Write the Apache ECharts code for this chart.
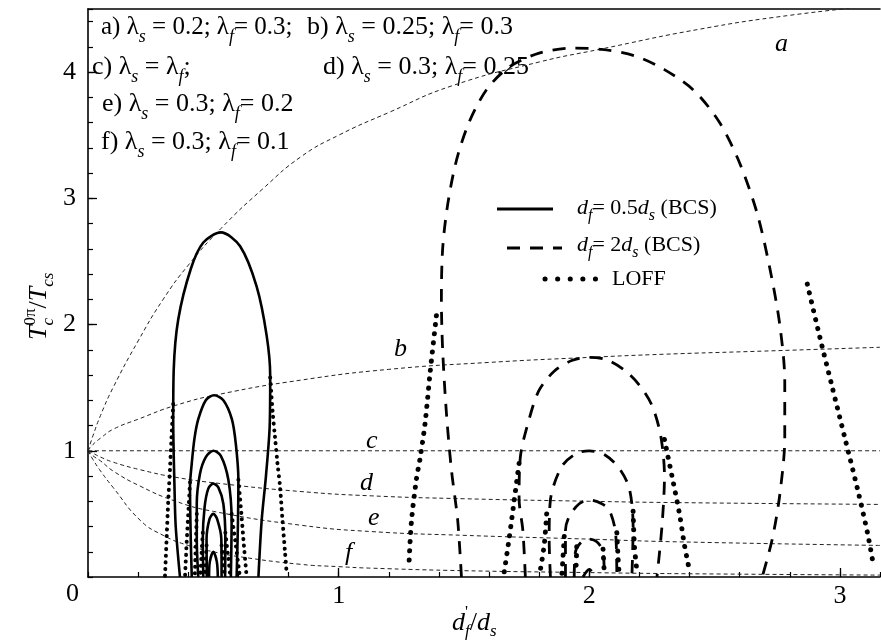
<!DOCTYPE html>
<html><head><meta charset="utf-8">
<script src="https://cdn.jsdelivr.net/npm/echarts@6/dist/echarts.min.js"></script>
<style>html,body{margin:0;padding:0;background:#fff}#c{width:881px;height:644px}</style>
</head><body><div id="c"></div>
<script>
// ---- axis ticks ----
const xMajorTicks = [0, 1, 2, 3];
const yMajorTicks = [0, 1, 2, 3, 4];

// ---- lambda curves (thin dashed) a..f ----
const lamA = [[0,1],[0.02,1.12],[0.05,1.28],[0.1,1.5],[0.2,1.87],[0.3,2.2],[0.4,2.47],[0.53,2.76],[0.7,3.08],[0.85,3.33],[1.0,3.5],[1.2,3.68],[1.45,3.89],[1.8,4.08],[2.04,4.18],[2.44,4.34],[2.8,4.45],[3.16,4.53]];
const lamB = [[0,1],[0.02,1.05],[0.05,1.1],[0.1,1.17],[0.2,1.25],[0.35,1.36],[0.53,1.45],[0.85,1.56],[1.2,1.645],[1.6,1.7],[2.0,1.74],[2.3,1.765],[2.7,1.79],[3.16,1.82]];
const lamC = [[0,1],[3.16,1]];
const lamD = [[0,1],[0.02,0.98],[0.05,0.95],[0.1,0.91],[0.208,0.85],[0.35,0.79],[0.53,0.74],[0.85,0.677],[1.13,0.643],[1.5,0.62],[2.0,0.6],[2.32,0.59],[3.16,0.575]];
const lamE = [[0,1],[0.02,0.96],[0.05,0.92],[0.1,0.84],[0.208,0.72],[0.35,0.6],[0.5,0.52],[0.85,0.41],[1.13,0.36],[1.5,0.33],[2.0,0.3],[2.32,0.28],[3.16,0.25]];
const lamF = [[0,1],[0.02,0.93],[0.05,0.84],[0.1,0.71],[0.208,0.45],[0.3,0.33],[0.4,0.25],[0.5,0.2],[0.607,0.16],[0.85,0.1],[1.0,0.082],[1.13,0.07],[1.5,0.05],[2.0,0.035],[2.32,0.027],[3.16,0.015]];

// ---- d_f = 0.5 d_s (BCS), solid ----
const bcsHalf1 = [[0.367,0],[0.35,0.4],[0.345,0.72],[0.34,1.25],[0.342,1.64],[0.36,2.04],[0.41,2.44],[0.46,2.65],[0.53,2.73],[0.607,2.62],[0.673,2.3],[0.713,1.91],[0.727,1.59],[0.725,1.2],[0.71,0.8],[0.693,0.45],[0.68,0]];
const bcsHalf2 = [[0.414,0],[0.41,0.3],[0.407,0.72],[0.414,0.9],[0.425,1.1],[0.44,1.25],[0.47,1.4],[0.503,1.44],[0.54,1.4],[0.574,1.25],[0.59,1.05],[0.6,0.77],[0.598,0.4],[0.593,0]];
const bcsHalf3 = [[0.44,0],[0.434,0.3],[0.434,0.58],[0.447,0.82],[0.47,0.95],[0.5,1.0],[0.53,0.96],[0.56,0.77],[0.573,0.45],[0.57,0]];
const bcsHalf4 = [[0.46,0],[0.458,0.3],[0.465,0.55],[0.48,0.7],[0.5,0.74],[0.52,0.71],[0.54,0.58],[0.548,0.3],[0.547,0]];
const bcsHalf5 = [[0.474,0],[0.473,0.3],[0.485,0.46],[0.5,0.5],[0.515,0.46],[0.532,0.3],[0.533,0]];
const bcsHalf6 = [[0.483,0],[0.486,0.12],[0.5,0.2],[0.514,0.12],[0.518,0]];

// ---- LOFF branches for d_f = 0.5 d_s ----
const loffHalf1L = [[0.34,1.37],[0.333,1.1],[0.327,0.85],[0.32,0.6],[0.314,0.32],[0.307,0]];
const loffHalf1R = [[0.727,1.58],[0.737,1.3],[0.746,1.11],[0.756,0.9],[0.766,0.72],[0.776,0.45],[0.786,0.2],[0.793,0.02]];
const loffHalf2L = [[0.407,0.75],[0.4,0.5],[0.393,0.25],[0.387,0]];
const loffHalf2R = [[0.6,0.77],[0.612,0.5],[0.622,0.25],[0.633,0]];
const loffHalf3L = [[0.434,0.5],[0.43,0.25],[0.426,0]];
const loffHalf3R = [[0.573,0.5],[0.59,0.25],[0.606,0]];
const loffHalf4L = [[0.458,0.35],[0.452,0.15],[0.448,0]];
const loffHalf4R = [[0.548,0.35],[0.56,0.15],[0.568,0]];
const loffHalf5L = [[0.473,0.25],[0.466,0]];
const loffHalf5R = [[0.533,0.25],[0.546,0]];

// ---- d_f = 2 d_s (BCS), dashed ----
const bcsTwo1 = [[1.49,0],[1.475,0.45],[1.45,0.85],[1.43,1.3],[1.415,1.8],[1.41,2.2],[1.415,2.6],[1.435,2.95],[1.47,3.3],[1.52,3.6],[1.59,3.86],[1.68,4.04],[1.8,4.15],[1.93,4.19],[2.05,4.18],[2.18,4.13],[2.3,4.02],[2.42,3.85],[2.52,3.6],[2.6,3.28],[2.67,2.88],[2.72,2.45],[2.76,2.0],[2.78,1.55],[2.78,1.1],[2.76,0.65],[2.73,0.3],[2.69,0]];
const bcsTwo2 = [[1.745,0],[1.735,0.37],[1.72,0.62],[1.725,0.95],[1.76,1.25],[1.8,1.48],[1.86,1.63],[1.93,1.715],[2.0,1.74],[2.07,1.72],[2.14,1.64],[2.2,1.52],[2.25,1.36],[2.285,1.12],[2.3,0.8],[2.29,0.4],[2.27,0]];
const bcsTwo3 = [[1.845,0],[1.84,0.3],[1.845,0.61],[1.89,0.875],[1.95,0.98],[2.0,1.0],[2.06,0.97],[2.12,0.86],[2.16,0.7],[2.175,0.4],[2.17,0]];
const bcsTwo4 = [[1.905,0],[1.905,0.37],[1.92,0.48],[1.96,0.58],[2.0,0.61],[2.05,0.58],[2.08,0.53],[2.105,0.35],[2.11,0]];
const bcsTwo5 = [[1.94,0],[1.945,0.2],[1.97,0.28],[2.0,0.3],[2.03,0.28],[2.055,0.2],[2.06,0]];
const bcsTwo6 = [[1.975,0],[2.0,0.06],[2.025,0]];

// ---- LOFF branches for d_f = 2 d_s ----
const loffTwo1L = [[1.39,2.07],[1.365,1.62],[1.345,1.22],[1.325,0.94],[1.31,0.77],[1.29,0.43],[1.28,0.07]];
const loffTwo1R = [[2.87,2.32],[2.92,1.9],[2.97,1.5],[3.02,1.1],[3.07,0.7],[3.11,0.35],[3.135,0.08]];
const loffTwo2L = [[1.72,0.9],[1.7,0.6],[1.68,0.3],[1.66,0.03]];
const loffTwo2R = [[2.3,1.09],[2.33,0.8],[2.36,0.5],[2.38,0.25],[2.4,0.05]];
const loffTwo3L = [[1.83,0.5],[1.82,0.25],[1.8,0]];
const loffTwo3R = [[2.175,0.52],[2.18,0.25],[2.19,0.05]];
const loffTwo4L = [[1.9,0.32],[1.895,0.15],[1.89,0]];
const loffTwo4R = [[2.11,0.35],[2.115,0.15],[2.12,0]];
const loffTwo5L = [[1.95,0.24],[1.947,0.05]];
const loffTwo5R = [[2.055,0.22],[2.06,0.03]];

// ---- text helpers ----
const FAM = '"Liberation Serif", "Times New Roman", serif';
const mctx = document.createElement('canvas').getContext('2d');
function measure(t, size, st) { mctx.font = (st === 'i' ? 'italic ' : '') + size + 'px ' + FAM; return mctx.measureText(t).width; }
// segs: [text, size, style, dy, noAdvance]
function rich(segs, x0, y0, rot) {
  let cx = 0; const children = [];
  for (const s of segs) {
    const [t, size, st, dy, noAdv] = s;
    children.push({ type: 'text', x: cx, y: (dy || 0) - 0.34 * size, silent: true,
      style: { text: t, font: (st === 'i' ? 'italic ' : '') + size + 'px ' + FAM,
        fill: '#000', align: 'left', verticalAlign: 'middle' } });
    if (!noAdv) cx += measure(t, size, st);
  }
  return { type: 'group', x: x0, y: y0, rotation: rot || 0, children };
}
const L = 'λ';
const MS = 26, SS = 18;
function lamLine(prefix, sVal, fVal, ms) {
  const m = ms || MS;
  return [[prefix, m, 'n'], [L, m, 'n'], ['s', SS, 'i', 7], [' = ' + sVal + '; ', m, 'n'], [L, m, 'n'], ['f', SS, 'i', 7], ['= ' + fVal, m, 'n']];
}

const graphics = [
  rich(lamLine('a) ', '0.2', '0.3;', 25), 101, 36),
  rich(lamLine('b) ', '0.25', '0.3'), 307, 36),
  rich([['c) ', MS, 'n'], [L, MS, 'n'], ['s', SS, 'i', 7], [' = ', MS, 'n'], [L, MS, 'n'], ['f', SS, 'i', 7], [';', MS, 'n']], 92, 76),
  rich(lamLine('d) ', '0.3', '0.25'), 323, 76),
  rich(lamLine('e) ', '0.3', '0.2'), 102, 113),
  rich(lamLine('f) ', '0.3', '0.1'), 101, 151),
  // middle legend
  { type: 'line', silent: true, shape: { x1: 497, y1: 209, x2: 553, y2: 209 }, style: { stroke: '#000', lineWidth: 3 } },
  { type: 'line', silent: true, shape: { x1: 507, y1: 248, x2: 562, y2: 248 }, style: { stroke: '#000', lineWidth: 3, lineDash: [13, 10] } },
  { type: 'line', silent: true, shape: { x1: 545, y1: 279, x2: 596, y2: 279 }, style: { stroke: '#000', lineWidth: 5, lineDash: [0.1, 12.5], lineCap: 'round' } },
  rich([['d', 22, 'i'], ['f', 16, 'i', 5], ['= 0.5', 22, 'n'], ['d', 22, 'i'], ['s', 16, 'i', 5], [' (BCS)', 22, 'n']], 577, 216),
  rich([['d', 22, 'i'], ['f', 16, 'i', 5], ['= 2', 22, 'n'], ['d', 22, 'i'], ['s', 16, 'i', 5], [' (BCS)', 22, 'n']], 577, 253),
  rich([['LOFF', 22, 'n']], 612, 287),
  // curve labels
  rich([['a', 26, 'i']], 775, 53),
  rich([['b', 26, 'i']], 394, 358),
  rich([['c', 26, 'i']], 366, 450),
  rich([['d', 26, 'i']], 360, 492),
  rich([['e', 26, 'i']], 368, 527),
  rich([['f', 26, 'i']], 345, 562),
  // corner zero
  rich([['0', 26, 'n']], 66, 603),
  // axis titles
  rich([['d', 26, 'i'], ["'", 17, 'n', -14, true], ['f', 17, 'i', 5], ['/', 26, 'n'], ['d', 26, 'i'], ['s', 17, 'i', 5]], 452, 632),
  rich([['T', 26, 'i'], ['c', 17, 'i', 6, true], ['0π', 17, 'n', -12], ['/', 26, 'n'], ['T', 26, 'i'], ['cs', 17, 'i', 6]], 48, 340, Math.PI / 2)
];

const series = [];
function add(data, kind) {
  const s = { type: 'line', data: data, symbol: 'none', showSymbol: false, smooth: 0.3, animation: false, silent: true, xAxisIndex: 0, yAxisIndex: 0 };
  if (kind === 'lam') { s.smooth = 0.5; s.lineStyle = { color: '#222', width: 1, type: [4, 3] }; }
  if (kind === 'solid') s.lineStyle = { color: '#000', width: 2.6 };
  if (kind === 'dash') s.lineStyle = { color: '#000', width: 2.8, type: [13, 10] };
  if (kind === 'dotS') s.lineStyle = { color: '#000', width: 4, type: [0.1, 6.5], cap: 'round' };
  if (kind === 'dotT') s.lineStyle = { color: '#000', width: 5, type: [0.1, 9], cap: 'round' };
  series.push(s);
}
[lamA, lamB, lamC, lamD, lamE, lamF].forEach(d => add(d, 'lam'));
[bcsHalf1, bcsHalf2, bcsHalf3, bcsHalf4, bcsHalf5, bcsHalf6].forEach(d => add(d, 'solid'));
[loffHalf1L, loffHalf1R, loffHalf2L, loffHalf2R, loffHalf3L, loffHalf3R, loffHalf4L, loffHalf4R, loffHalf5L, loffHalf5R].forEach(d => add(d, 'dotS'));
[bcsTwo1, bcsTwo2, bcsTwo3, bcsTwo4, bcsTwo5, bcsTwo6].forEach(d => add(d, 'dash'));
[loffTwo1L, loffTwo1R, loffTwo2L, loffTwo2R, loffTwo3L, loffTwo3R, loffTwo4L, loffTwo4R, loffTwo5L, loffTwo5R].forEach(d => add(d, 'dotT'));

const lbl = { color: '#000', fontFamily: 'Liberation Serif', fontSize: 26 };
const option = {
  animation: false,
  backgroundColor: '#fff',
  grid: { left: 88, right: 1, top: 9, bottom: 67, containLabel: false },
  xAxis: [
    { type: 'value', position: 'bottom', min: 0, max: 3.16, interval: 1,
      axisLine: { show: true, lineStyle: { color: '#000', width: 1.6 } },
      axisTick: { show: true, inside: true, length: 9, lineStyle: { color: '#000', width: 1.3 } },
      axisLabel: Object.assign({ margin: 6, showMinLabel: false, showMaxLabel: false,
        formatter: v => (xMajorTicks.indexOf(v) >= 0 ? String(v) : '') }, lbl),
      splitLine: { show: false } },
    { type: 'value', position: 'bottom', min: 0, max: 3.16, interval: 0.2,
      axisLine: { show: false }, axisLabel: { show: false }, splitLine: { show: false },
      axisTick: { show: true, inside: true, length: 5, lineStyle: { color: '#000', width: 1.2 } } },
    { type: 'value', position: 'top', min: 0, max: 3.16,
      axisLine: { show: true, lineStyle: { color: '#000', width: 1.6 } },
      axisTick: { show: false }, axisLabel: { show: false }, splitLine: { show: false } }
  ],
  yAxis: [
    { type: 'value', position: 'left', min: 0, max: 4.5, interval: 1,
      axisLine: { show: true, lineStyle: { color: '#000', width: 1.6 } },
      axisTick: { show: true, inside: true, length: 9, lineStyle: { color: '#000', width: 1.3 } },
      axisLabel: Object.assign({ margin: 12, showMinLabel: false, showMaxLabel: false,
        formatter: v => (yMajorTicks.indexOf(v) >= 0 ? String(v) : '') }, lbl),
      splitLine: { show: false } },
    { type: 'value', position: 'left', min: 0, max: 4.5, interval: 0.2,
      axisLine: { show: false }, axisLabel: { show: false }, splitLine: { show: false },
      axisTick: { show: true, inside: true, length: 5, lineStyle: { color: '#000', width: 1.2 } } }
  ],
  series: series,
  graphic: graphics
};
const chart = echarts.init(document.getElementById('c'), null, { renderer: 'canvas' });
chart.setOption(option);
</script></body></html>
